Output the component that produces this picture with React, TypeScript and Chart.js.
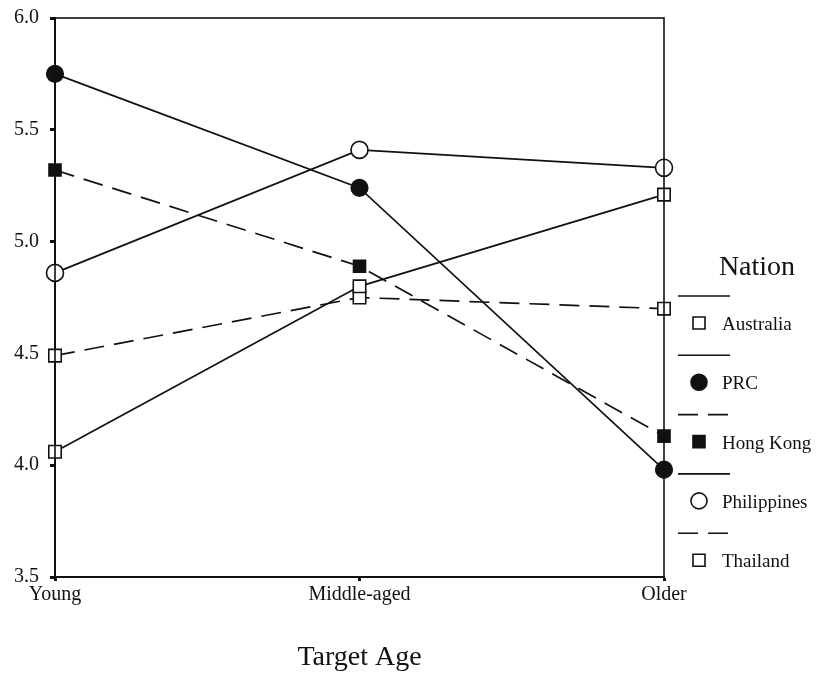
import React, { useEffect, useRef } from 'react';
import { Chart, registerables } from 'chart.js';

Chart.register(...registerables);

// ---- data ----
const categories = ['Young', 'Middle-aged', 'Older'];
const nations = ['Australia', 'PRC', 'Hong Kong', 'Philippines', 'Thailand'];
const australia = [4.06, 4.8, 5.21];
const prc = [5.75, 5.24, 3.98];
const hongKong = [5.32, 4.89, 4.13];
const philippines = [4.86, 5.41, 5.33];
const thailand = [4.49, 4.75, 4.7];
const yTicks = [3.5, 4.0, 4.5, 5.0, 5.5, 6.0];
const legendTitle = 'Nation';
const xTitle = 'Target Age';

// ---- styles ----
const INK = '#111';
const FONT = '"Liberation Serif", "Times New Roman", serif';
const DASH = [20, 10];

type Style = { dash: number[]; shape: 'rect' | 'circle'; filled: boolean; r: number };
const styles: Style[] = [
  { dash: [], shape: 'rect', filled: false, r: 8.8 },
  { dash: [], shape: 'circle', filled: true, r: 8.3 },
  { dash: DASH, shape: 'rect', filled: true, r: 8.5 },
  { dash: [], shape: 'circle', filled: false, r: 8.5 },
  { dash: DASH, shape: 'rect', filled: false, r: 8.8 },
];
const seriesValues = [australia, prc, hongKong, philippines, thailand];

const boxPlugin = {
  id: 'frameBox',
  afterDatasetsDraw(chart: any) {
    const { ctx, chartArea: a } = chart;
    ctx.save();
    ctx.strokeStyle = INK;
    ctx.lineWidth = 1.6;
    ctx.strokeRect(a.left, a.top, a.right - a.left, a.bottom - a.top);
    ctx.restore();
  },
};

function drawMarker(ctx: CanvasRenderingContext2D, shape: string, filled: boolean, x: number, y: number, size: number) {
  ctx.beginPath();
  if (shape === 'circle') {
    ctx.arc(x, y, size / 2, 0, Math.PI * 2);
  } else {
    ctx.rect(x - size / 2, y - size / 2, size, size);
  }
  ctx.fillStyle = filled ? INK : '#fff';
  ctx.fill();
  ctx.lineWidth = 1.6;
  ctx.strokeStyle = INK;
  ctx.stroke();
}

const legendPlugin = {
  id: 'nationLegend',
  afterDraw(chart: any) {
    const { ctx, chartArea: a } = chart;
    const x0 = a.right + 14;
    ctx.save();
    ctx.fillStyle = INK;
    ctx.font = `28px ${FONT}`;
    ctx.textAlign = 'center';
    ctx.textBaseline = 'alphabetic';
    ctx.fillText(legendTitle, x0 + 79, 275);
    chart.data.datasets.forEach((ds: any, i: number) => {
      const st = styles[i];
      const ly = 296 + i * 59.3;
      ctx.beginPath();
      ctx.setLineDash(ds.borderDash || []);
      ctx.lineWidth = 1.6;
      ctx.strokeStyle = INK;
      ctx.moveTo(x0, ly);
      ctx.lineTo(x0 + 52, ly);
      ctx.stroke();
      ctx.setLineDash([]);
      const my = ly + 27;
      const size = st.shape === 'circle' ? 16 : 12;
      drawMarker(ctx, st.shape, st.filled, x0 + 21, my, size);
      ctx.fillStyle = INK;
      ctx.font = `19px ${FONT}`;
      ctx.textAlign = 'left';
      ctx.textBaseline = 'middle';
      ctx.fillText(ds.label, x0 + 44, my + 2);
    });
    ctx.restore();
  },
};

export default function App() {
  const ref = useRef<HTMLCanvasElement | null>(null);
  useEffect(() => {
    if (!ref.current) return;
    const chart = new Chart(ref.current, {
      type: 'line',
      data: {
        labels: categories,
        datasets: nations.map((n, i) => ({
          label: n,
          data: seriesValues[i],
          borderColor: INK,
          borderWidth: 1.7,
          borderDash: styles[i].dash,
          tension: 0,
          fill: false,
          pointStyle: styles[i].shape,
          pointRadius: styles[i].r,
          pointHoverRadius: styles[i].r,
          pointBorderWidth: 1.6,
          pointBorderColor: INK,
          pointBackgroundColor: styles[i].filled ? INK : '#fff',
        })),
      },
      options: {
        responsive: false,
        animation: false,
        events: [],
        layout: { padding: { left: 0, top: 18, right: 158, bottom: 0 } },
        plugins: { legend: { display: false }, tooltip: { enabled: false } },
        scales: {
          x: {
            type: 'category',
            offset: false,
            afterFit: (s: any) => {
              s.height = 100;
              s.paddingLeft = 0;
              s.paddingRight = 0;
            },
            grid: {
              drawOnChartArea: false,
              drawTicks: true,
              tickLength: 4,
              tickWidth: 3,
              tickColor: INK,
            },
            border: { display: true, color: INK, width: 2 },
            ticks: {
              color: INK,
              font: { family: FONT, size: 20 },
              padding: 2,
              maxRotation: 0,
              autoSkip: false,
            },
            title: {
              display: true,
              text: xTitle,
              color: INK,
              font: { family: FONT, size: 28 },
              padding: { top: 4, bottom: 3 },
            },
          },
          y: {
            type: 'linear',
            min: 3.5,
            max: 6.0,
            afterFit: (s: any) => {
              s.width = 55;
              s.paddingTop = 0;
              s.paddingBottom = 0;
            },
            afterBuildTicks: (s: any) => {
              s.ticks = yTicks.map((v) => ({ value: v }));
            },
            grid: {
              drawOnChartArea: false,
              drawTicks: true,
              tickLength: 5,
              tickWidth: 3,
              tickColor: INK,
            },
            border: { display: true, color: INK, width: 2 },
            ticks: {
              color: INK,
              font: { family: FONT, size: 20 },
              padding: 11,
              callback: (v: any) => Number(v).toFixed(1),
            },
          },
        },
      },
      plugins: [boxPlugin, legendPlugin],
    });
    return () => chart.destroy();
  }, []);
  return (
    <div style={{ position: 'fixed', left: 0, top: 0, width: 822, height: 677, background: '#fff' }}>
      <canvas ref={ref} width={822} height={677} style={{ display: 'block' }} />
    </div>
  );
}
